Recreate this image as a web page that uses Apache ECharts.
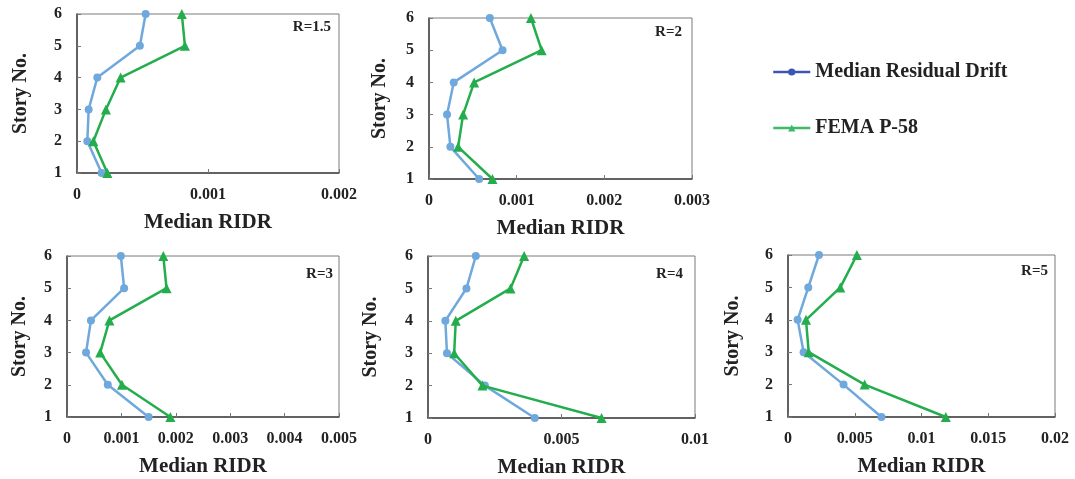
<!DOCTYPE html>
<html>
<head>
<meta charset="utf-8">
<script src="https://cdn.jsdelivr.net/npm/echarts@6/dist/echarts.min.js"></script>
<style>
  html, body { margin: 0; padding: 0; background: #fff; }
</style>
</head>
<body>
<div id="chart" style="width: 1075px; height: 479px"></div>
<script>
// story numbers (y values)
const stories = [1, 2, 3, 4, 5, 6]

// median residual drift per story (story 1 .. 6)
const drift_R15 = [0.000188, 0.000079, 0.000089, 0.000155, 0.00048, 0.000524]
const drift_R2 = [0.000572, 0.000244, 0.000206, 0.000282, 0.000839, 0.000694]
const drift_R3 = [0.0015, 0.00075, 0.00035, 0.00044, 0.00105, 0.00099]
const drift_R4 = [0.004, 0.00213, 0.00071, 0.00065, 0.00144, 0.00179]
const drift_R5 = [0.007, 0.00416, 0.00117, 0.00072, 0.00152, 0.00232]

// FEMA P-58 per story (story 1 .. 6)
const fema_R15 = [0.000232, 0.000125, 0.000221, 0.000333, 0.000824, 0.0008]
const fema_R2 = [0.000724, 0.000332, 0.000389, 0.000515, 0.001285, 0.001163]
const fema_R3 = [0.0019, 0.00101, 0.00061, 0.00078, 0.00183, 0.00177]
const fema_R4 = [0.0065, 0.00204, 0.00098, 0.00104, 0.00309, 0.0036]
const fema_R5 = [0.01182, 0.00574, 0.00155, 0.00135, 0.00392, 0.00516]

const panelLabels = ['R=1.5', 'R=2', 'R=3', 'R=4', 'R=5']
const xMax = [0.002, 0.003, 0.005, 0.01, 0.02]
const xStep = [0.001, 0.001, 0.001, 0.005, 0.005]
const driftSets = [drift_R15, drift_R2, drift_R3, drift_R4, drift_R5]
const femaSets = [fema_R15, fema_R2, fema_R3, fema_R4, fema_R5]

const serif = '"Liberation Serif", "DejaVu Serif", serif'
const blue = '#6fa8dc'
const green = '#24ad4c'

// grid boxes: left, top, width, height
const boxes = [
  [77, 14, 262, 159],
  [429, 18, 263, 161],
  [67, 256, 272, 161],
  [428, 256, 267, 163],
  [788, 255, 267, 162]
]
const yNameGap = [46, 39, 37, 47, 45]
// R label anchor (right, middle)
const labelPos = [[331, 28], [682, 33], [333, 275], [683, 275], [1048, 272]]

const pairs = (xs) => xs.map((v, i) => [v, stories[i]])

var myChart = echarts.init(document.getElementById('chart'))

const grid = boxes.map((b) => ({
  left: b[0], top: b[1], width: b[2], height: b[3],
  show: true, borderColor: '#7a7a7a', borderWidth: 1, containLabel: false
}))

const xAxis = boxes.map((b, i) => ({
  type: 'value',
  gridIndex: i,
  min: 0,
  max: xMax[i],
  interval: xStep[i],
  name: 'Median RIDR',
  nameLocation: 'middle',
  nameGap: 39,
  nameTextStyle: { fontFamily: serif, fontWeight: 'bold', fontSize: 21, color: '#222' },
  axisLine: { lineStyle: { color: '#444', width: 1.5 } },
  axisTick: { show: true, inside: true, length: 4, lineStyle: { color: '#777' } },
  axisLabel: { fontFamily: serif, fontWeight: 'bold', fontSize: 16, color: '#222', margin: 14 },
  splitLine: { show: false }
}))

const yAxis = boxes.map((b, i) => ({
  type: 'value',
  gridIndex: i,
  min: 1,
  max: 6,
  interval: 1,
  name: 'Story No.',
  nameLocation: 'middle',
  nameGap: yNameGap[i],
  nameRotate: 90,
  nameTextStyle: { fontFamily: serif, fontWeight: 'bold', fontSize: 20, color: '#222' },
  axisLine: { show: true, lineStyle: { color: '#444', width: 1.5 } },
  axisTick: { show: true, inside: true, length: 4, lineStyle: { color: '#777' } },
  axisLabel: { fontFamily: serif, fontWeight: 'bold', fontSize: 16, color: '#222', margin: 15 },
  splitLine: { show: false }
}))

const series = []
for (let i = 0; i < 5; i++) {
  series.push({
    name: 'Median Residual Drift',
    type: 'line',
    xAxisIndex: i,
    yAxisIndex: i,
    data: pairs(driftSets[i]),
    symbol: 'circle',
    symbolSize: 8,
    lineStyle: { color: blue, width: 2.5 },
    itemStyle: { color: blue },
    z: 3
  })
  series.push({
    name: 'FEMA P-58',
    type: 'line',
    xAxisIndex: i,
    yAxisIndex: i,
    data: pairs(femaSets[i]),
    symbol: 'triangle',
    symbolSize: 10,
    lineStyle: { color: green, width: 2.5 },
    itemStyle: { color: green },
    z: 4
  })
}

const graphic = panelLabels.map((t, i) => ({
  type: 'text',
  right: 1075 - labelPos[i][0],
  top: labelPos[i][1] - 8,
  style: { text: t, font: 'bold 15px ' + serif, fill: '#222' }
}))

const option = {
  animation: false,
  backgroundColor: '#fff',
  grid: grid,
  xAxis: xAxis,
  yAxis: yAxis,
  legend: {
    orient: 'vertical',
    left: 772,
    top: 62,
    padding: 0,
    itemGap: 36,
    itemWidth: 37,
    itemHeight: 9,
    textStyle: { fontFamily: serif, fontWeight: 'bold', fontSize: 20, color: '#222' },
    data: [
      { name: 'Median Residual Drift', itemStyle: { color: '#3c55b5' }, lineStyle: { color: '#3c55b5', width: 2.5 } },
      { name: 'FEMA P-58', itemStyle: { color: '#3cba6a' }, lineStyle: { color: '#3cba6a', width: 2.5 } }
    ]
  },
  graphic: graphic,
  series: series
}

myChart.setOption(option)
</script>
</body>
</html>
